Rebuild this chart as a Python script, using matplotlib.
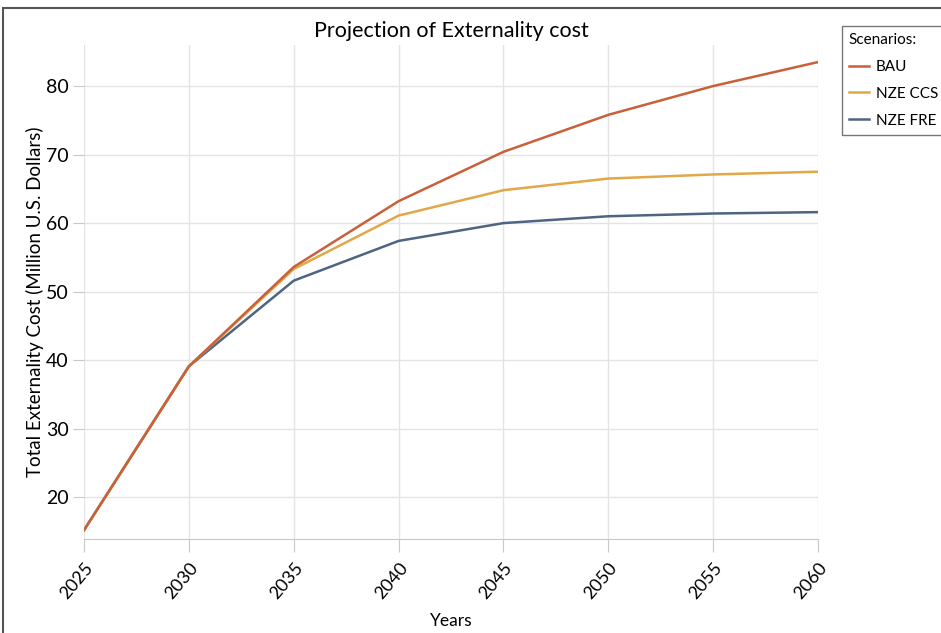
import numpy as np
import matplotlib.pyplot as plt
from matplotlib.patches import Rectangle

plt.rcParams["font.family"] = ["Lato", "DejaVu Sans"]

years = [2025, 2030, 2035, 2040, 2045, 2050, 2055, 2060]
bau = [15.2, 39.1, 53.6, 63.2, 70.4, 75.8, 80.0, 83.5]
nze_ccs = [15.2, 39.1, 53.3, 61.1, 64.8, 66.5, 67.1, 67.5]
nze_fre = [15.2, 39.1, 51.6, 57.4, 60.0, 61.0, 61.4, 61.6]

series = [
    ("BAU", bau, "#c9603a"),
    ("NZE CCS", nze_ccs, "#e2a747"),
    ("NZE FRE", nze_fre, "#4d6483"),
]

fig = plt.figure(figsize=(9.41, 6.33), dpi=100)
fig.patch.set_facecolor("white")
ax = fig.add_axes([0.0893, 0.1485, 0.7800, 0.7805])

# BAU drawn last so it sits on top where the lines overlap
for z, (name, vals, col) in enumerate(series):
    ax.plot(years, vals, color=col, lw=1.8, label=name, zorder=5 - z)

ax.set_xlim(2025, 2060)
ax.set_ylim(13.9, 86)
ax.set_xticks(years)
ax.set_yticks([20, 30, 40, 50, 60, 70, 80])
ax.tick_params(axis="x", labelrotation=50, labelsize=13, length=9,
               color="#c8c8c8", pad=6)
ax.tick_params(axis="y", labelsize=14, length=8, color="#c8c8c8", pad=3)
for lab in ax.get_xticklabels():
    lab.set_ha("right")
    lab.set_rotation_mode("anchor")

ax.grid(True, color="#e4e4e4", lw=1)
ax.set_axisbelow(True)
for s in ["top", "right", "left"]:
    ax.spines[s].set_visible(False)
ax.spines["bottom"].set_color("#c8c8c8")

ax.set_title("Projection of Externality cost", fontsize=15.5, pad=6)
ax.set_xlabel("Years", fontsize=12.5, labelpad=8)
ax.set_ylabel("Total Externality Cost (Million U.S. Dollars)", fontsize=13.5)
ax.yaxis.set_label_coords(-0.055, 0.48)

leg = fig.legend(loc="upper left", bbox_to_anchor=(842 / 941, 1 - 26 / 633),
                 title="Scenarios:", fontsize=11, title_fontsize=11,
                 frameon=True, fancybox=False, edgecolor="#555555",
                 handlelength=1.3, handletextpad=0.45, borderpad=0.45,
                 borderaxespad=0, labelspacing=0.85)
leg._legend_box.align = "left"

# outer frame of the original screenshot
fig.add_artist(Rectangle((3 / 941, -0.05), 1.2, 1.05 - 8 / 633,
                         transform=fig.transFigure, fill=False,
                         edgecolor="#555555", lw=1.5))

fig.savefig("out.png", dpi=100, facecolor="white")
